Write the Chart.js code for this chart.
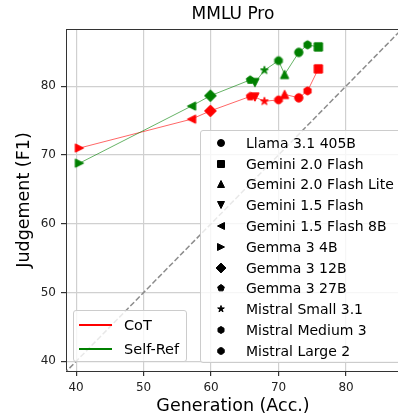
<!DOCTYPE html>
<html>
<head>
<meta charset="utf-8">
<script src="https://cdn.jsdelivr.net/npm/chart.js@4"></script>
<style>
html, body { margin: 0; padding: 0; overflow: hidden; background: #fff; }
#wrap { position: relative; width: 405px; height: 417px; }
.lg { position: absolute; box-sizing: border-box; background: rgba(255,255,255,0.8);
      border: 1px solid #cccccc; border-radius: 3px; font-family: 'DejaVu Sans'; color: #000; }
.lg .row { position: absolute; white-space: nowrap; height: 20px; line-height: 20px; }
.lg canvas { position: absolute; }
.lg .ln { position: absolute; height: 2px; width: 33px; }
</style>
</head>
<body>
<div id="wrap">
  <canvas id="myChart" width="405" height="417"></canvas>
  <div class="lg" id="modelLegend" style="left:200px; top:130px; width:230px; height:233px; font-size:14px;"></div>
  <div class="lg" id="methodLegend" style="left:73px; top:310px; width:114px; height:52px; font-size:14.5px;"></div>
</div>
<script>
// data (legend order)
var models = ['Llama 3.1 405B', 'Gemini 2.0 Flash', 'Gemini 2.0 Flash Lite', 'Gemini 1.5 Flash',
  'Gemini 1.5 Flash 8B', 'Gemma 3 4B', 'Gemma 3 12B', 'Gemma 3 27B', 'Mistral Small 3.1',
  'Mistral Medium 3', 'Mistral Large 2'];
var generation = [73.0, 75.9, 70.9, 66.5, 57.1, 40.5, 59.9, 65.8, 67.9, 74.3, 70.0];
var cot        = [78.3, 82.5, 78.8, 78.4, 75.2, 71.0, 76.4, 78.5, 77.8, 79.3, 78.0];
var selfRef    = [84.9, 85.7, 81.7, 80.5, 77.1, 68.8, 78.6, 80.9, 82.3, 86.0, 83.7];
var xTicks = [40, 50, 60, 70, 80];
var yTicks = [40, 50, 60, 70, 80];

// matplotlib-like marker per model
var shapeOf = {
  'Llama 3.1 405B': 'o', 'Gemini 2.0 Flash': 's', 'Gemini 2.0 Flash Lite': '^',
  'Gemini 1.5 Flash': 'v', 'Gemini 1.5 Flash 8B': '<', 'Gemma 3 4B': '>',
  'Gemma 3 12B': 'D', 'Gemma 3 27B': 'p', 'Mistral Small 3.1': '*',
  'Mistral Medium 3': 'h', 'Mistral Large 2': '8'
};

function poly(g, r, n, startDeg) {
  for (var k = 0; k < n; k++) {
    var a = (startDeg + k * 360 / n) * Math.PI / 180;
    var px = r * Math.sin(a), py = -r * Math.cos(a);
    if (k === 0) g.moveTo(px, py); else g.lineTo(px, py);
  }
}

function marker(shape, color, s) {
  var c = document.createElement('canvas');
  var n = Math.ceil(s * 1.6) + 2;
  c.width = c.height = n;
  var g = c.getContext('2d');
  g.translate(n / 2, n / 2);
  g.fillStyle = color;
  g.strokeStyle = color;
  g.lineWidth = 1;
  g.lineJoin = 'miter';
  var r = s / 2;
  g.beginPath();
  if (shape === 'o') g.arc(0, 0, r, 0, Math.PI * 2);
  else if (shape === 's') g.rect(-r, -r, s, s);
  else if (shape === 'D') poly(g, r * Math.SQRT2, 4, 0);
  else if (shape === 'p') poly(g, r, 5, 0);
  else if (shape === 'h') poly(g, r, 6, 0);
  else if (shape === '8') poly(g, r, 8, 22.5);
  else if (shape === '*') {
    for (var k = 0; k < 10; k++) {
      var rr = k % 2 ? r * 0.382 : r;
      var a = k * Math.PI / 5;
      if (k === 0) g.moveTo(rr * Math.sin(a), -rr * Math.cos(a));
      else g.lineTo(rr * Math.sin(a), -rr * Math.cos(a));
    }
  } else {
    var rot = {'^': 0, '>': 90, 'v': 180, '<': 270}[shape];
    g.rotate(rot * Math.PI / 180);
    g.moveTo(0, -r); g.lineTo(r, r); g.lineTo(-r, r);
  }
  g.closePath();
  g.fill();
  g.stroke();
  return c;
}

// lines go through the models sorted by generation accuracy
var order = models.map(function(m, i) { return i; })
  .sort(function(a, b) { return generation[a] - generation[b]; });
function pts(arr) { return order.map(function(i) { return {x: generation[i], y: arr[i]}; }); }
function marks(color) { return order.map(function(i) { return marker(shapeOf[models[i]], color, 8.3); }); }

var topSpine = {
  id: 'topSpine',
  beforeDatasetsDraw: function(chart) {
    var a = chart.chartArea, c = chart.ctx;
    c.save();
    c.strokeStyle = '#333';
    c.lineWidth = 1;
    c.beginPath();
    c.moveTo(a.left, a.top + 0.5);
    c.lineTo(a.right, a.top + 0.5);
    c.stroke();
    c.restore();
  }
};

Chart.defaults.font.family = 'DejaVu Sans';

var ctx = document.getElementById('myChart').getContext('2d');
var chart = new Chart(ctx, {
  type: 'scatter',
  data: {
    datasets: [{
      label: 'Self-Ref',
      data: pts(selfRef),
      showLine: true,
      borderColor: 'rgba(0,128,0,0.6)',
      borderWidth: 1,
      pointStyle: marks('#008000'),
      pointRadius: 4
    }, {
      label: 'CoT',
      data: pts(cot),
      showLine: true,
      borderColor: 'rgba(255,0,0,0.6)',
      borderWidth: 1,
      pointStyle: marks('#ff0000'),
      pointRadius: 4
    }, {
      label: 'y = x',
      data: [{x: 30, y: 30}, {x: 100, y: 100}],
      showLine: true,
      borderColor: '#8c8c8c',
      borderWidth: 1.5,
      borderDash: [5.5, 2.4],
      pointRadius: 0
    }]
  },
  options: {
    responsive: false,
    animation: false,
    devicePixelRatio: 1,
    layout: {padding: 0},
    plugins: {
      legend: {display: false},
      tooltip: {enabled: false},
      title: {
        display: true, text: 'MMLU Pro', fullSize: false, color: '#000',
        font: {size: 17, weight: 'normal'}, padding: {top: 4, bottom: 4.6}
      }
    },
    scales: {
      x: {
        type: 'linear', min: 38.5, max: 88,
        afterBuildTicks: function(s) { s.ticks = xTicks.map(function(v) { return {value: v}; }); },
        afterFit: function(s) { s.height = 46; },
        ticks: {color: '#222', font: {size: 12}, padding: 5, maxRotation: 0},
        grid: {color: '#d0d0d0', lineWidth: 1.2, tickColor: '#333', tickLength: 5},
        border: {color: '#333', width: 1},
        title: {display: true, text: 'Generation (Acc.)', color: '#000',
          font: {size: 17.5}, padding: {top: 0, bottom: 0}}
      },
      y: {
        type: 'linear', min: 38.6, max: 88.3,
        afterBuildTicks: function(s) { s.ticks = yTicks.map(function(v) { return {value: v}; }); },
        afterFit: function(s) { s.width = 66; },
        ticks: {color: '#222', font: {size: 12}, padding: 5},
        grid: {color: '#d0d0d0', lineWidth: 1.2, tickColor: '#333', tickLength: 5},
        border: {color: '#333', width: 1},
        title: {display: true, text: 'Judgement (F1)', color: '#000',
          font: {size: 17.5}, padding: {top: 14, bottom: 0}}
      }
    }
  },
  plugins: [topSpine]
});

// model legend (black markers)
var ml = document.getElementById('modelLegend');
models.forEach(function(m, i) {
  var cy = 11.7 + 20.8 * i;
  var mk = marker(shapeOf[m], '#000', 7);
  mk.style.left = (20 - mk.width / 2) + 'px';
  mk.style.top = (cy - mk.height / 2) + 'px';
  ml.appendChild(mk);
  var row = document.createElement('div');
  row.className = 'row';
  row.style.left = '45px';
  row.style.top = (cy - 10) + 'px';
  row.textContent = m;
  ml.appendChild(row);
});

// method legend
var methods = [['CoT', '#ff0000'], ['Self-Ref', '#008000']];
var tl = document.getElementById('methodLegend');
methods.forEach(function(d, i) {
  var cy = 14 + 24 * i;
  var ln = document.createElement('div');
  ln.className = 'ln';
  ln.style.left = '5px';
  ln.style.top = (cy - 1) + 'px';
  ln.style.background = d[1];
  tl.appendChild(ln);
  var row = document.createElement('div');
  row.className = 'row';
  row.style.left = '50px';
  row.style.top = (cy - 10) + 'px';
  row.textContent = d[0];
  tl.appendChild(row);
});
</script>
</body>
</html>
